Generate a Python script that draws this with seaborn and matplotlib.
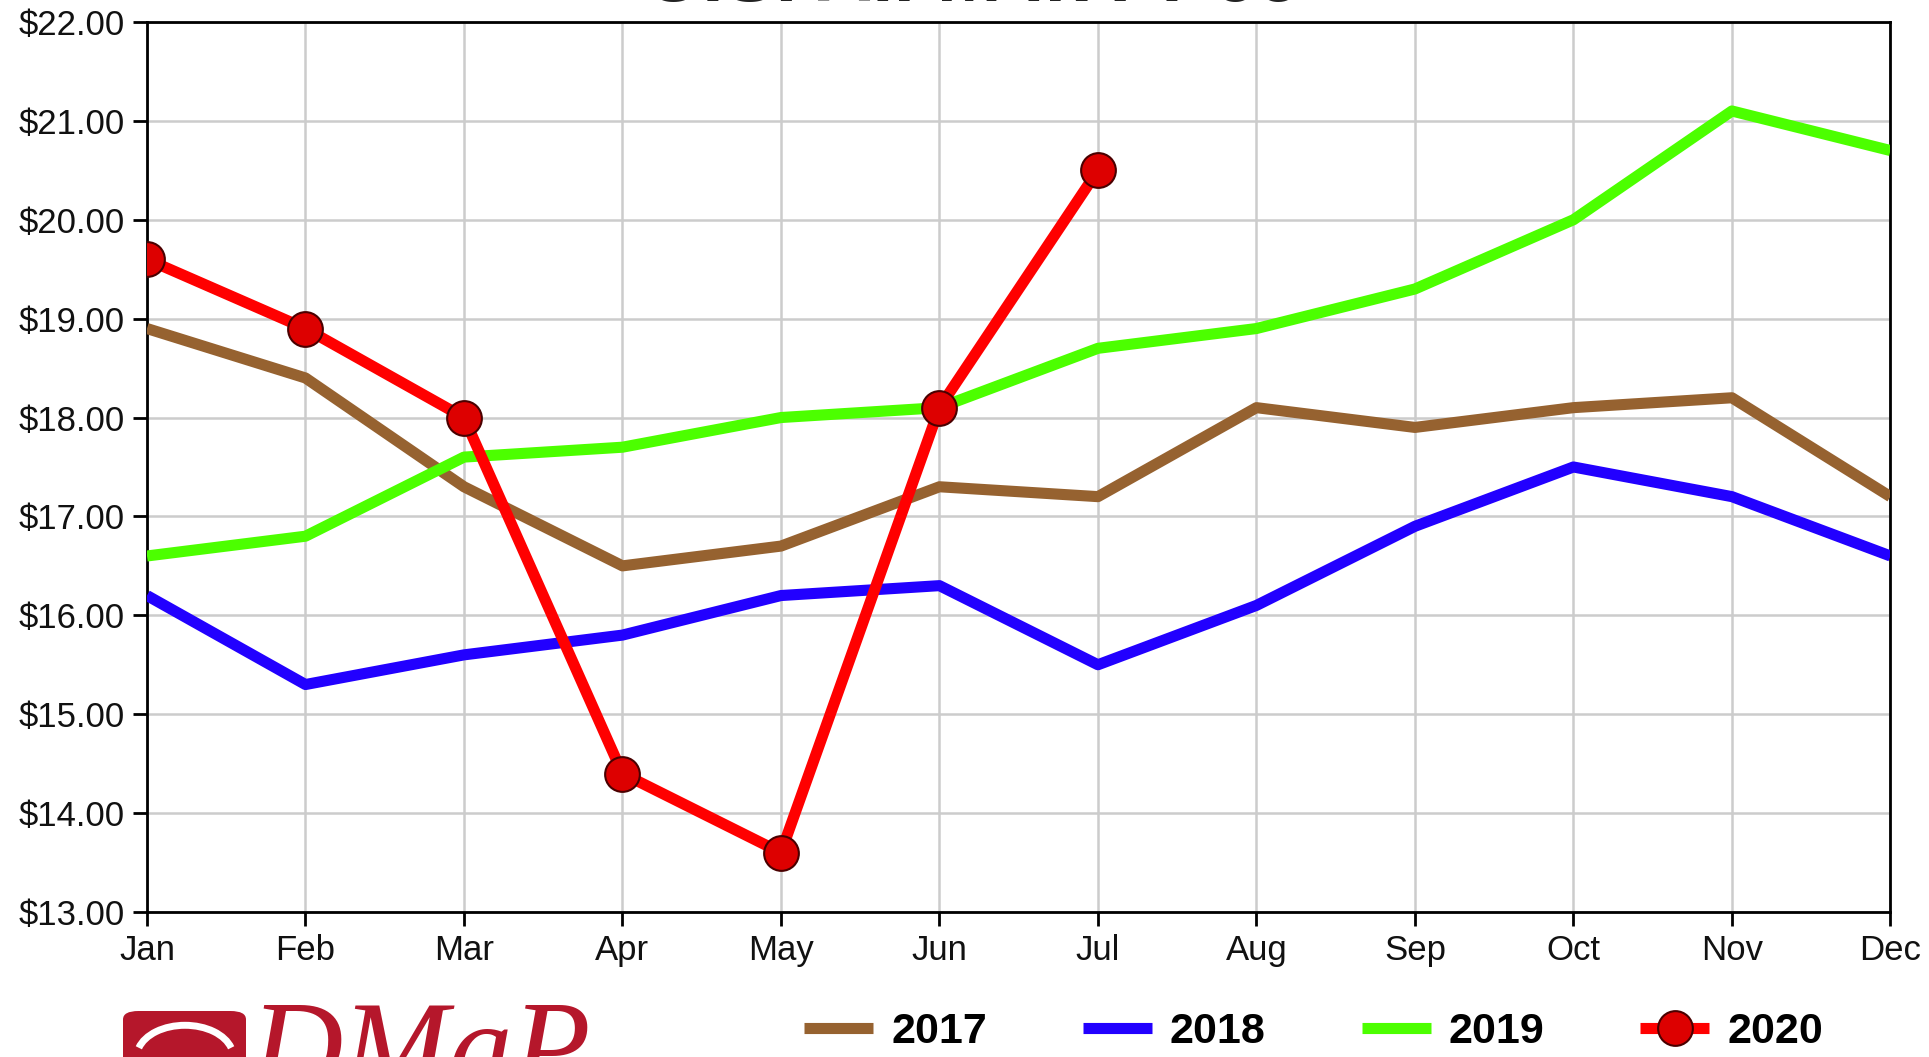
import pandas as pd
import matplotlib.pyplot as plt
import seaborn as sns
from matplotlib.patches import FancyBboxPatch, Arc

months = ["Jan", "Feb", "Mar", "Apr", "May", "Jun", "Jul", "Aug", "Sep", "Oct", "Nov", "Dec"]
price_2017 = [18.90, 18.40, 17.30, 16.50, 16.70, 17.30, 17.20, 18.10, 17.90, 18.10, 18.20, 17.20]
price_2018 = [16.20, 15.30, 15.60, 15.80, 16.20, 16.30, 15.50, 16.10, 16.90, 17.50, 17.20, 16.60]
price_2019 = [16.60, 16.80, 17.60, 17.70, 18.00, 18.10, 18.70, 18.90, 19.30, 20.00, 21.10, 20.70]
price_2020 = [19.60, 18.90, 18.00, 14.40, 13.60, 18.10, 20.50]
y_ticks = [13, 14, 15, 16, 17, 18, 19, 20, 21, 22]

series = {"2017": price_2017, "2018": price_2018, "2019": price_2019, "2020": price_2020}
colors = {"2017": "#966230", "2018": "#2200ff", "2019": "#4cff00", "2020": "#ff0000"}

rows = []
for year, vals in series.items():
    for i, v in enumerate(vals):
        rows.append({"year": year, "month": i, "price": v})
df = pd.DataFrame(rows)

sns.set_theme(style="white")
plt.rcParams["font.family"] = ["Liberation Sans", "DejaVu Sans"]

fig = plt.figure(figsize=(19.29, 10.57), dpi=100)
ax = fig.add_axes([0.0762, 0.1372, 0.9038, 0.8420])

for year in ["2017", "2018", "2019"]:
    sns.lineplot(data=df[df["year"] == year], x="month", y="price", color=colors[year],
                 linewidth=8, label=year, ax=ax, zorder=3)
sns.lineplot(data=df[df["year"] == "2020"], x="month", y="price", color=colors["2020"],
             linewidth=8, marker="o", markersize=25, markerfacecolor="#dd0000",
             markeredgecolor="#4a0000", markeredgewidth=1.5, label="2020", ax=ax, zorder=4)

ax.set_xlim(0, 11)
ax.set_ylim(13, 22)
ax.set_xticks(range(12))
ax.set_xticklabels(months)
ax.set_yticks(y_ticks)
ax.set_yticklabels([f"${v:.2f}" for v in y_ticks])
ax.set_xlabel("")
ax.set_ylabel("")
ax.grid(True, color="#cccccc", linewidth=1.8)
ax.set_axisbelow(True)
for s in ax.spines.values():
    s.set_color("black")
    s.set_linewidth(2)
ax.tick_params(axis="both", direction="out", length=10, width=2, color="black",
               labelsize=25, labelcolor="#111111", pad=6, left=True, bottom=True)

handles, labels = ax.get_legend_handles_labels()
ax.get_legend().remove()
for h in handles:
    h.set_solid_capstyle("butt")
leg = fig.legend(handles, labels, loc="center", bbox_to_anchor=(0.681, 0.0237), ncol=4,
                 frameon=False, handlelength=1.6, handletextpad=0.42, columnspacing=2.23,
                 prop={"family": ["Liberation Sans Narrow", "Liberation Sans"], "weight": "bold", "size": 31})
for t in leg.get_texts():
    t.set_color("black")

fig.text(0.504, 1 - 1 / 1057, "U.S. All Milk Price", ha="center", va="baseline",
         fontsize=56, fontweight="bold", color="#222222")

# logo
fig.patches.append(FancyBboxPatch((123 / 1929, -0.02), 123 / 1929, (1057 - 1011) / 1057 + 0.02,
                                  boxstyle="round,pad=0,rounding_size=0.008",
                                  transform=fig.transFigure, facecolor="#b5172b",
                                  edgecolor="none", figure=fig))
fig.patches.append(Arc((185 / 1929, 0.0), 0.05, 0.06, theta1=20, theta2=160,
                       transform=fig.transFigure, color="white", linewidth=5, figure=fig))
fig.text(250 / 1929, 1 - 1000 / 1057, "DMaP", ha="left", va="top", fontsize=92,
         style="italic", color="#b5172b", family=["Liberation Serif", "DejaVu Serif"])

plt.savefig("out.png", dpi=100)
plt.close()
